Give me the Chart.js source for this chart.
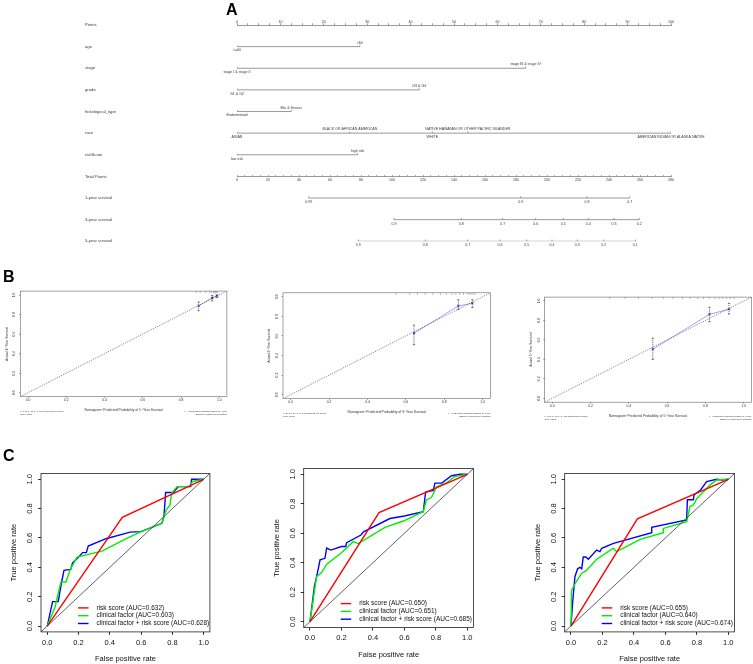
<!DOCTYPE html>
<html><head><meta charset="utf-8">
<script src="https://cdn.jsdelivr.net/npm/chart.js@4.4.0/dist/chart.umd.min.js"></script>
<style>
html,body{margin:0;padding:0;background:#fff;}
#wrap{position:relative;width:753px;height:664px;overflow:hidden;background:#fff;}
canvas{position:absolute;}
.tag{position:absolute;font:bold 16px 'Liberation Sans',Arial,sans-serif;line-height:16px;color:#000;z-index:5;}
</style></head><body>
<div id="wrap">
<canvas id="nomo"></canvas>
<canvas id="b1"></canvas><canvas id="b2"></canvas><canvas id="b3"></canvas>
<canvas id="c1"></canvas><canvas id="c2"></canvas><canvas id="c3"></canvas>
<div class="tag" style="left:226px;top:2px">A</div>
<div class="tag" style="left:3px;top:269px">B</div>
<div class="tag" style="left:3px;top:448px">C</div>
</div>
<script>
// ---------------- DATA ----------------
// Panel A: nomogram
const nomoRows = ['Points','age','stage','grade','histological_type','race','riskScore','Total Points','1-year survival','3-year survival','5-year survival'];
const ageLevels = ['<=60','>60'];
const agePoints = [0, 28.3];
const stageLevels = ['stage I & stage II','stage III & stage IV'];
const stagePoints = [0, 66.5];
const gradeLevels = ['G1 & G2','G3 & G4'];
const gradePoints = [0, 42.0];
const histLevels = ['Endometrioid','Mix & Serous'];
const histPoints = [0, 12.5];
const raceLevels = ['ASIAN','BLACK OR AFRICAN AMERICAN','WHITE','NATIVE HAWAIIAN OR OTHER PACIFIC ISLANDER','AMERICAN INDIAN OR ALASKA NATIVE'];
const racePoints = [0, 26.0, 45.0, 53.2, 100];
const riskLevels = ['low risk','high risk'];
const riskPoints = [0, 27.8];
const surv1Labels = ['0.99','0.9','0.8','0.7'];
const surv1Total = [46.3, 183.0, 225.8, 253.4];
const surv3Labels = ['0.9','0.8','0.7','0.6','0.5','0.4','0.3','0.2'];
const surv3Total = [101.3, 144.7, 171.4, 192.7, 210.5, 226.6, 243.2, 259.5];
const surv5Labels = ['0.9','0.8','0.7','0.6','0.5','0.4','0.3','0.2','0.1'];
const surv5Total = [78.3, 121.5, 148.8, 169.7, 186.9, 203.2, 219.5, 236.6, 257.0];

// Panel B: calibration
const b1Pred = [0.892, 0.963, 0.988];
const b1Obs  = [0.890, 0.970, 0.993];
const b1Lo   = [0.839, 0.940, 0.975];
const b1Hi   = [0.928, 0.995, 1.000];
const b1Rug  = [0.88, 0.90, 0.93, 0.95, 0.96, 0.97, 0.975, 0.98, 0.985, 0.99];
const b2Pred = [0.642, 0.873, 0.946];
const b2Obs  = [0.627, 0.905, 0.933];
const b2Lo   = [0.510, 0.870, 0.890];
const b2Hi   = [0.710, 0.970, 0.970];
const b2Rug  = [0.55, 0.62, 0.66, 0.70, 0.74, 0.78, 0.81, 0.84, 0.86, 0.88, 0.90, 0.92, 0.93, 0.94, 0.95, 0.96];
const b3Pred = [0.525, 0.821, 0.923];
const b3Obs  = [0.504, 0.863, 0.915];
const b3Lo   = [0.400, 0.787, 0.866];
const b3Hi   = [0.617, 0.935, 0.976];
const b3Rug  = [0.30, 0.38, 0.45, 0.52, 0.58, 0.63, 0.68, 0.72, 0.76, 0.79, 0.82, 0.85, 0.87, 0.89, 0.91, 0.93, 0.95];
const calibTitles = ['1','3','5'];
const calibNotes = ['n=541 d=18 p=5, 180 subjects per group','n=541 d=56 p=5, 180 subjects per group','n=541 d=78 p=5, 180 subjects per group'];

// Panel C: ROC curves
const rocLabels = ['risk score','clinical factor','clinical factor + risk score'];
const c1Auc = ['0.632','0.603','0.628'];
const c2Auc = ['0.650','0.651','0.685'];
const c3Auc = ['0.655','0.640','0.674'];
const c1RiskX = [0, 0.48, 1];
const c1RiskY = [0, 0.74, 1];
const c1ClinX = [0, 0.05, 0.087, 0.12, 0.145, 0.19, 0.35, 0.486, 0.6, 0.733, 0.76, 0.785, 0.795, 0.83, 0.91, 0.93, 1];
const c1ClinY = [0, 0.13, 0.30, 0.30, 0.38, 0.47, 0.51, 0.586, 0.643, 0.70, 0.79, 0.825, 0.905, 0.95, 0.95, 0.985, 1];
const c1CombX = [0, 0.034, 0.07, 0.092, 0.107, 0.15, 0.162, 0.2, 0.226, 0.25, 0.262, 0.375, 0.53, 0.6, 0.733, 0.746, 0.757, 0.806, 0.838, 0.917, 0.923, 1];
const c1CombY = [0, 0.166, 0.166, 0.30, 0.38, 0.386, 0.43, 0.47, 0.5, 0.5, 0.545, 0.595, 0.64, 0.643, 0.70, 0.745, 0.91, 0.91, 0.95, 0.95, 1.0, 1];
const c2RiskX = [0, 0.439, 1];
const c2RiskY = [0, 0.74, 1];
const c2ClinX = [0, 0.042, 0.074, 0.106, 0.2, 0.275, 0.307, 0.477, 0.593, 0.72, 0.74, 0.773, 0.805, 0.869, 0.92, 1];
const c2ClinY = [0, 0.305, 0.333, 0.39, 0.468, 0.543, 0.53, 0.64, 0.683, 0.746, 0.826, 0.844, 0.916, 0.943, 0.984, 1];
const c2CombX = [0, 0.028, 0.049, 0.064, 0.095, 0.106, 0.133, 0.2, 0.227, 0.233, 0.324, 0.34, 0.508, 0.6, 0.72, 0.735, 0.784, 0.794, 0.837, 0.9, 0.953, 1];
const c2CombY = [0, 0.24, 0.34, 0.42, 0.43, 0.50, 0.486, 0.51, 0.51, 0.536, 0.588, 0.61, 0.70, 0.717, 0.746, 0.88, 0.89, 0.94, 0.94, 0.99, 1.0, 1];
const c3RiskX = [0, 0.422, 1];
const c3RiskY = [0, 0.73, 1];
const c3ClinX = [0, 0.004, 0.032, 0.068, 0.095, 0.163, 0.27, 0.29, 0.44, 0.587, 0.587, 0.735, 0.756, 0.778, 0.8, 0.883, 0.926, 1];
const c3ClinY = [0, 0.245, 0.30, 0.36, 0.375, 0.455, 0.53, 0.507, 0.59, 0.636, 0.665, 0.711, 0.814, 0.825, 0.87, 0.96, 0.995, 1];
const c3CombX = [0, 0.01, 0.025, 0.042, 0.057, 0.068, 0.078, 0.095, 0.11, 0.163, 0.184, 0.195, 0.27, 0.513, 0.513, 0.735, 0.74, 0.778, 0.782, 0.824, 0.862, 0.926, 0.958, 1];
const c3CombY = [0, 0.155, 0.336, 0.39, 0.40, 0.39, 0.47, 0.47, 0.455, 0.518, 0.507, 0.53, 0.563, 0.636, 0.673, 0.723, 0.86, 0.86, 0.893, 0.927, 0.984, 1.0, 0.995, 1];

// ---------------- SETUP ----------------
const FONT = "'Liberation Sans', Arial, sans-serif";
Chart.defaults.font.family = FONT;
Chart.defaults.animation = false;
Chart.defaults.events = [];
Chart.defaults.plugins.legend.display = false;
Chart.defaults.plugins.tooltip.enabled = false;
const mctx = document.createElement('canvas').getContext('2d');
function textW(t, size){ mctx.font = size + 'px ' + FONT; return mctx.measureText(t).width; }
function place(id, left, top, w, h){
  const cv = document.getElementById(id);
  cv.width = w; cv.height = h; cv.style.left = left + 'px'; cv.style.top = top + 'px';
  cv.style.width = w + 'px'; cv.style.height = h + 'px';
  return cv;
}
const xy = (xs, ys) => xs.map((x, i) => ({x: x, y: ys[i]}));

// ---------------- NOMOGRAM ----------------
(function(){
  const LINE = '#808080', TXT = '#3a3a3a';
  const cv = place('nomo', 0, 0, 753, 262);
  const rowTop = 25, rowBottom = 241.3;
  const nomoVars = [
    {row:1, levels:ageLevels, pts:agePoints},
    {row:2, levels:stageLevels, pts:stagePoints},
    {row:3, levels:gradeLevels, pts:gradePoints},
    {row:4, levels:histLevels, pts:histPoints},
    {row:5, levels:raceLevels, pts:racePoints},
    {row:6, levels:riskLevels, pts:riskPoints}
  ];
  const nomoSurv = [
    {row:8, labels:surv1Labels, total:surv1Total},
    {row:9, labels:surv3Labels, total:surv3Total},
    {row:10, labels:surv5Labels, total:surv5Total}
  ];
  const ds = [];
  nomoVars.forEach(v => {
    ds.push({data:[{x:Math.min(...v.pts), y:v.row},{x:Math.max(...v.pts), y:v.row}], showLine:true,
      borderColor:LINE, borderWidth:0.8, pointRadius:0, xAxisID:'x', yAxisID:'y'});
    ds.push({data:v.pts.map(p => ({x:p, y:v.row})), showLine:false, pointStyle:'dash', pointRotation:-90,
      pointRadius:1.7, pointBorderColor:LINE, pointBorderWidth:0.8, xAxisID:'x', yAxisID:'y'});
  });
  nomoSurv.forEach(s => {
    ds.push({data:[{x:Math.min(...s.total), y:s.row},{x:Math.max(...s.total), y:s.row}], showLine:true,
      borderColor:LINE, borderWidth:0.8, pointRadius:0, xAxisID:'x2', yAxisID:'y'});
    ds.push({data:s.total.map(t => ({x:t, y:s.row})), showLine:false, pointStyle:'dash', pointRotation:-90,
      pointRadius:1.7, pointBorderColor:LINE, pointBorderWidth:0.8, xAxisID:'x2', yAxisID:'y'});
  });
  const labelPlugin = {id:'nomoLabels', afterDraw(chart){
    const ctx = chart.ctx, xs = chart.scales.x, x2 = chart.scales.x2, ys = chart.scales.y;
    ctx.save(); ctx.font = '3.6px ' + FONT; ctx.fillStyle = TXT; ctx.textAlign = 'center'; ctx.textBaseline = 'middle';
    nomoVars.forEach(v => {
      const y = ys.getPixelForValue(v.row);
      const order = v.pts.map((p, i) => i).sort((a, b) => v.pts[a] - v.pts[b]);
      order.forEach((i, k) => ctx.fillText(v.levels[i], xs.getPixelForValue(v.pts[i]), k % 2 === 0 ? y + 3.8 : y - 3.8));
    });
    nomoSurv.forEach(s => {
      const y = ys.getPixelForValue(s.row);
      s.total.forEach((t, i) => ctx.fillText(s.labels[i], x2.getPixelForValue(t), y + 4));
    });
    ctx.restore();
  }};
  new Chart(cv, {
    type:'scatter',
    data:{datasets:ds},
    options:{
      responsive:false, animation:false, events:[],
      layout:{padding:{left:85, right:753-671, top:0, bottom:262-rowBottom}, autoPadding:false},
      scales:{
        x:{type:'linear', position:'top', min:0, max:100,
          afterFit:s => { s.height = rowTop; s.paddingLeft = 0; s.paddingRight = 0; },
          ticks:{stepSize:2.5, includeBounds:false, autoSkip:false, maxRotation:0, minRotation:0,
            callback:v => (v % 10 === 0 ? String(v) : ''), font:{size:3.6}, color:TXT, padding:-0.6},
          grid:{drawOnChartArea:false, drawTicks:true, tickLength:1.7, color:LINE, lineWidth:0.8},
          border:{display:true, color:LINE, width:0.8}},
        x2:{type:'linear', axis:'x', position:{y:7}, min:0, max:280,
          afterFit:s => { s.paddingLeft = 0; s.paddingRight = 0; },
          ticks:{stepSize:5, includeBounds:false, autoSkip:false, maxRotation:0, minRotation:0,
            callback:v => (v % 20 === 0 ? String(v) : ''), font:{size:3.6}, color:TXT, padding:3.5},
          grid:{drawOnChartArea:false, drawTicks:true, tickLength:-1.7, color:LINE, lineWidth:0.8},
          border:{display:true, color:LINE, width:0.8}},
        y:{type:'linear', position:'left', min:0, max:10, reverse:true,
          afterFit:s => { s.width = 237 - 85; s.paddingTop = 0; s.paddingBottom = 0; },
          ticks:{stepSize:1, autoSkip:false, crossAlign:'far', callback:v => nomoRows[v] || '',
            font:{size:4.2}, color:TXT},
          grid:{display:false}, border:{display:false}}
      },
      plugins:{legend:{display:false}, tooltip:{enabled:false}}
    },
    plugins:[labelPlugin]
  });
})();

// ---------------- R-style plot helper ----------------
function boxPlugin(color, lw){
  return {id:'rbox', afterDraw(chart){
    const {ctx, chartArea:a} = chart;
    ctx.save(); ctx.strokeStyle = color; ctx.lineWidth = lw;
    ctx.strokeRect(a.left, a.top, a.right - a.left, a.bottom - a.top); ctx.restore();
  }};
}
function rPlot(id, page, box, o){
  const cv = place(id, page.left, page.top, page.w, page.h);
  const bl = box.l - page.left, bt = box.t - page.top, br = box.r - page.left, bb = box.b - page.top;
  const tickLH = o.tickSize * 1.2, titleLH = o.titleSize * 1.2;
  const widest = textW('0.0', o.tickSize);
  const grid = {drawOnChartArea:false, drawTicks:true, tickLength:o.tl, color:o.axisColor, lineWidth:o.lw};
  return new Chart(cv, {
    type:'scatter',
    data:{datasets:o.datasets},
    options:{
      responsive:false, animation:false, events:[],
      layout:{padding:{left:0, top:bt, right:page.w - br, bottom:0}, autoPadding:false},
      scales:{
        x:{type:'linear', position:'bottom', min:-0.04, max:1.04,
          afterFit:s => { s.height = page.h - bb; s.paddingLeft = 0; s.paddingRight = 0; },
          ticks:{stepSize:0.2, includeBounds:false, autoSkip:false, maxRotation:0, minRotation:0,
            callback:v => (+v).toFixed(1), font:{size:o.tickSize}, color:o.textColor,
            padding:o.xLabOff - o.tl - tickLH / 2},
          grid:grid, border:{display:false},
          title:{display:true, text:o.xTitle, color:o.textColor, font:{size:o.titleSize},
            padding:{top:0, bottom:(page.h - bb) - o.xTitleOff - titleLH / 2}}},
        y:{type:'linear', position:'left', min:-0.04, max:1.04,
          afterFit:s => { s.width = bl; s.paddingTop = 0; s.paddingBottom = 0; },
          ticks:{stepSize:0.2, includeBounds:false, autoSkip:false, minRotation:90, maxRotation:90, crossAlign:'center',
            callback:v => (+v).toFixed(1), font:{size:o.tickSize}, color:o.textColor,
            padding:o.yLabOff - o.tl - widest / 2},
          grid:grid, border:{display:false},
          title:{display:true, text:o.yTitle, color:o.textColor, font:{size:o.titleSize},
            padding:{top:bl - o.yTitleOff - titleLH / 2, bottom:0}}}
      },
      plugins:{legend:{display:false}, tooltip:{enabled:false}}
    },
    plugins:[boxPlugin(o.boxColor, o.lw)].concat(o.extra || [])
  });
}

// ---------------- PANEL B ----------------
function calibDatasets(pred, obs, lo, hi, rug){
  const bars = [];
  pred.forEach((p, i) => { bars.push({x:p, y:lo[i]}); bars.push({x:p, y:hi[i]}); bars.push({x:p, y:null}); });
  return [
    {data:[{x:-0.04, y:-0.04},{x:1.04, y:1.04}], showLine:true, borderColor:'#505050', borderWidth:0.7,
      borderDash:[1.2,1.2], pointRadius:0},
    {data:bars, showLine:true, spanGaps:false, borderColor:'#222', borderWidth:0.6, borderDash:[1.2,0.8],
      pointStyle:'line', pointRadius:1.1, pointBorderColor:'#222', pointBorderWidth:0.6},
    {data:xy(pred, obs), showLine:true, borderColor:'#8a8aff', borderWidth:0.8,
      pointStyle:'crossRot', pointRadius:1.4, pointBorderColor:'#1010c0', pointBorderWidth:0.9},
    {data:rug.map(r => ({x:r, y:1.04})), showLine:false, pointStyle:'dash', pointRotation:90,
      pointRadius:2, pointBorderColor:'#777', pointBorderWidth:0.5}
  ];
}
function notePlugin(leftLines, rightLines){
  return {id:'notes', afterDraw(chart){
    const {ctx, chartArea:a} = chart;
    ctx.save(); ctx.font = '2.4px ' + FONT; ctx.fillStyle = '#333'; ctx.textBaseline = 'middle';
    ctx.textAlign = 'left';
    leftLines.forEach((t, i) => ctx.fillText(t, a.left, a.bottom + 14.4 + i * 3));
    ctx.textAlign = 'right';
    rightLines.forEach((t, i) => ctx.fillText(t, a.right, a.bottom + 14.4 + i * 3));
    ctx.restore();
  }};
}
const bStyle = {tickSize:3.4, titleSize:3.4, tl:1.3, xLabOff:3.6, yLabOff:5.8, xTitleOff:13.4, yTitleOff:13.6,
  lw:0.6, axisColor:'#555', textColor:'#333', boxColor:'#666'};
const calibSets = [
  {id:'b1', page:{left:0, top:265, w:250, h:160}, box:{l:20.35, t:291.1, r:226.9, b:396.6}, d:[b1Pred,b1Obs,b1Lo,b1Hi,b1Rug]},
  {id:'b2', page:{left:250, top:265, w:250, h:160}, box:{l:283.0, t:292.8, r:490.4, b:398.6}, d:[b2Pred,b2Obs,b2Lo,b2Hi,b2Rug]},
  {id:'b3', page:{left:500, top:265, w:253, h:160}, box:{l:544.6, t:297.1, r:751.4, b:402.2}, d:[b3Pred,b3Obs,b3Lo,b3Hi,b3Rug]}
];
calibSets.forEach((c, i) => {
  rPlot(c.id, c.page, c.box, Object.assign({}, bStyle, {
    xTitle:'Nomogram\u2212Predicted Probability of ' + calibTitles[i] + '\u2212Year Survival',
    yTitle:'Actual ' + calibTitles[i] + '\u2212Year Survival',
    datasets:calibDatasets(...c.d),
    extra:[notePlugin([calibNotes[i], 'Gray: ideal'], ['X - resampling optimism added, B=1000', 'Based on observed-predicted'])]
  }));
});

// ---------------- PANEL C ----------------
const rocColors = ['#FF0000', '#00EE00', '#0000FF'];
function rocDatasets(curves, aucs){
  const out = [{data:[{x:-0.04, y:-0.04},{x:1.04, y:1.04}], showLine:true, borderColor:'#3a3a3a', borderWidth:0.8, pointRadius:0}];
  curves.forEach((c, i) => out.push({label:rocLabels[i] + ' (AUC=' + aucs[i] + ')', inLegend:true,
    data:xy(c[0], c[1]), showLine:true, borderColor:rocColors[i], borderWidth:1.4, pointRadius:0}));
  return out;
}
const rocLegend = {id:'rocLegend', afterDraw(chart){
  const {ctx, chartArea:a} = chart;
  const items = chart.data.datasets.filter(d => d.inLegend);
  const rowOff = [-24, -16.2, -8.4];
  ctx.save(); ctx.font = '6.5px ' + FONT; ctx.textBaseline = 'middle'; ctx.textAlign = 'left';
  items.forEach((d, i) => {
    const y = a.bottom + rowOff[i];
    ctx.strokeStyle = d.borderColor; ctx.lineWidth = 1.4;
    ctx.beginPath(); ctx.moveTo(a.left + 37, y); ctx.lineTo(a.left + 47.5, y); ctx.stroke();
    ctx.fillStyle = '#111'; ctx.fillText(d.label, a.left + 55.5, y);
  });
  ctx.restore();
}};
const cStyle = {tickSize:7.5, titleSize:7.5, tl:3, xLabOff:10.6, yLabOff:10.6, xTitleOff:27, yTitleOff:27,
  lw:0.8, axisColor:'#000', textColor:'#111', boxColor:'#222', xTitle:'False positive rate', yTitle:'True positive rate'};
const rocSets = [
  {id:'c1', page:{left:0, top:440, w:250, h:224}, box:{l:41.0, t:473.4, r:209.9, b:631.9},
    curves:[[c1RiskX,c1RiskY],[c1ClinX,c1ClinY],[c1CombX,c1CombY]], auc:c1Auc},
  {id:'c2', page:{left:250, top:440, w:250, h:224}, box:{l:303.7, t:468.4, r:473.6, b:627.6},
    curves:[[c2RiskX,c2RiskY],[c2ClinX,c2ClinY],[c2CombX,c2CombY]], auc:c2Auc},
  {id:'c3', page:{left:500, top:440, w:253, h:224}, box:{l:564.7, t:473.4, r:734.6, b:631.9},
    curves:[[c3RiskX,c3RiskY],[c3ClinX,c3ClinY],[c3CombX,c3CombY]], auc:c3Auc}
];
rocSets.forEach(c => {
  rPlot(c.id, c.page, c.box, Object.assign({}, cStyle, {datasets:rocDatasets(c.curves, c.auc), extra:[rocLegend]}));
});
</script>
</body></html>
